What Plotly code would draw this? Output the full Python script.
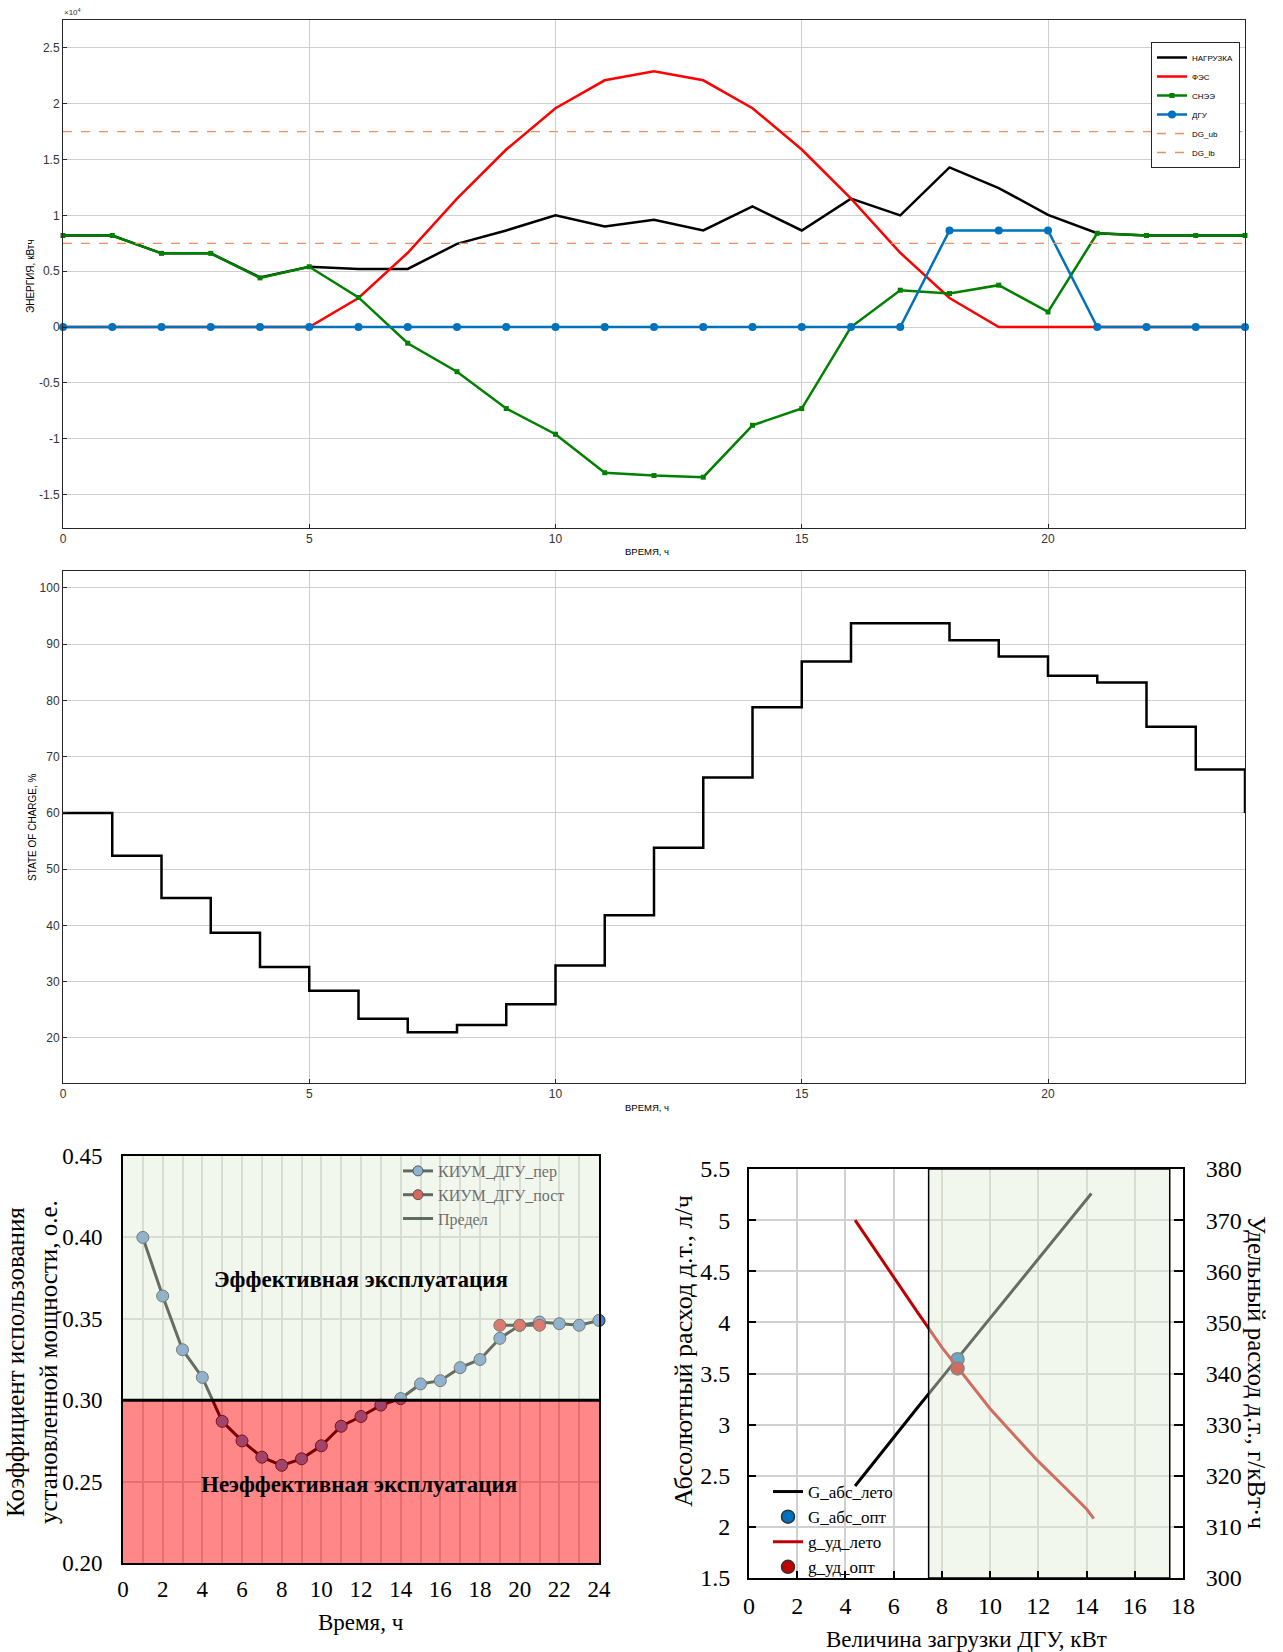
import plotly.graph_objects as go

# ---------------- data: top chart (energy balance, kWh) ----------------
HOURS = list(range(25))
LOAD = [8200, 8200, 6600, 6600, 4450, 5400, 5200, 5200, 7450, 8650, 10000, 9000, 9600, 8650,
        10800, 8650, 11500, 10000, 14300, 12450, 10050, 8400, 8200, 8200, 8200]
PV = [0, 0, 0, 0, 0, 0, 2600, 6650, 11500, 15900, 19600, 22100, 22900, 22100, 19600, 15900,
      11500, 6650, 2600, 0, 0, 0, 0, 0, 0]
BESS = [8200, 8200, 6600, 6600, 4400, 5400, 2650, -1450, -4000, -7300, -9600, -13050, -13300,
        -13450, -8800, -7300, 0, 3300, 3000, 3750, 1350, 8400, 8200, 8200, 8200]
DG = [0, 0, 0, 0, 0, 0, 0, 0, 0, 0, 0, 0, 0, 0, 0, 0, 0, 0, 8650, 8650, 8650, 0, 0, 0, 0]
DG_UB = 17500
DG_LB = 7500
TOP_TICKVALS = [-15000, -10000, -5000, 0, 5000, 10000, 15000, 20000, 25000]
TOP_TICKTEXT = ["-1.5", "-1", "-0.5", "0", "0.5", "1", "1.5", "2", "2.5"]

# ---------------- data: middle chart (state of charge, %) ----------------
SOC = [60.0, 52.4, 44.9, 38.7, 32.6, 28.4, 23.4, 21.0, 22.3, 26.0, 32.9, 41.8, 53.8, 66.3,
       78.8, 86.9, 93.7, 93.7, 90.7, 87.8, 84.4, 83.2, 75.3, 67.7, 60.0]

# ---------------- data: bottom-left (capacity factor) ----------------
KIUM_T = list(range(1, 25))
KIUM_PER = [0.400, 0.364, 0.331, 0.314, 0.287, 0.275, 0.265, 0.260, 0.264, 0.272, 0.284, 0.290,
            0.297, 0.301, 0.310, 0.312, 0.320, 0.325, 0.338, 0.346, 0.348, 0.347, 0.346, 0.349]
KIUM_POST_T = [19, 20, 21]
KIUM_POST = [0.346, 0.346, 0.346]
LIMIT = 0.30
KIUM_YMIN, KIUM_YMAX = 0.20, 0.45

# ---------------- data: bottom-right (fuel consumption) ----------------
LOAD_KW_ABS = [4.4, 5, 6, 7, 8, 9, 10, 11, 12, 13, 14, 14.2]
G_ABS = [2.40, 2.58, 2.87, 3.17, 3.46, 3.75, 4.04, 4.33, 4.62, 4.91, 5.20, 5.26]
LOAD_KW_UD = [4.4, 5, 6, 7, 8, 9, 10, 11, 12, 13, 14, 14.3]
G_UD = [370.0, 365.8, 358.8, 351.9, 345.1, 339.0, 333.1, 327.9, 322.8, 318.2, 313.5, 311.6]
OPT_X = 8.65
OPT_G_ABS = 3.64
OPT_G_UD = 341.0
ZONE_X = [7.45, 17.45]
Y_ABS_RANGE = [1.5, 5.5]
Y_UD_RANGE = [300, 380]

SANS = "Liberation Sans"
SERIF = "Liberation Serif"
W, H = 1283, 1652

def px_x(p):
    return p / W

def px_y(p):
    return 1 - p / H

fig = go.Figure()

# ---- top chart ----
fig.add_trace(go.Scatter(x=HOURS, y=LOAD, mode="lines", name="НАГРУЗКА",
                         line=dict(color="black", width=2.5), xaxis="x", yaxis="y", legend="legend"))
fig.add_trace(go.Scatter(x=HOURS, y=PV, mode="lines", name="ФЭС",
                         line=dict(color="#FF0000", width=2.5), xaxis="x", yaxis="y", legend="legend"))
fig.add_trace(go.Scatter(x=HOURS, y=BESS, mode="lines+markers", name="СНЭЭ",
                         line=dict(color="#008000", width=2.5),
                         marker=dict(symbol="square", size=5, color="#008000"),
                         xaxis="x", yaxis="y", legend="legend", cliponaxis=False))
fig.add_trace(go.Scatter(x=HOURS, y=DG, mode="lines+markers", name="ДГУ",
                         line=dict(color="#0072BD", width=2.5),
                         marker=dict(symbol="circle", size=8, color="#0072BD"),
                         xaxis="x", yaxis="y", legend="legend", cliponaxis=False))
fig.add_trace(go.Scatter(x=[HOURS[0], HOURS[-1]], y=[DG_UB, DG_UB], mode="lines", name="DG_ub",
                         line=dict(color="#F0905F", width=1.3, dash="dash"),
                         xaxis="x", yaxis="y", legend="legend"))
fig.add_trace(go.Scatter(x=[HOURS[0], HOURS[-1]], y=[DG_LB, DG_LB], mode="lines", name="DG_lb",
                         line=dict(color="#F0905F", width=1.3, dash="dash"),
                         xaxis="x", yaxis="y", legend="legend"))

# ---- middle chart ----
fig.add_trace(go.Scatter(x=HOURS, y=SOC, mode="lines", line_shape="hv",
                         line=dict(color="black", width=2.5), xaxis="x2", yaxis="y2",
                         showlegend=False))

# ---- bottom-left chart ----
fig.add_trace(go.Scatter(x=KIUM_T, y=KIUM_PER, mode="lines+markers",
                         line=dict(color="black", width=3),
                         marker=dict(size=12, color="#4A80C8", line=dict(color="#1A1A1A", width=1)),
                         xaxis="x3", yaxis="y3", showlegend=False, cliponaxis=False))
fig.add_trace(go.Scatter(x=KIUM_POST_T, y=KIUM_POST, mode="lines+markers",
                         line=dict(color="black", width=3),
                         marker=dict(size=12, color="#D81818", line=dict(color="#1A1A1A", width=1)),
                         xaxis="x3", yaxis="y3", showlegend=False))
fig.add_trace(go.Scatter(x=[0, 24, 24, 0, 0], y=[LIMIT, LIMIT, KIUM_YMAX, KIUM_YMAX, LIMIT],
                         fill="toself", fillcolor="rgba(227,237,216,0.46)", mode="none",
                         xaxis="x3", yaxis="y3", showlegend=False, hoverinfo="skip"))
fig.add_trace(go.Scatter(x=[0, 24, 24, 0, 0], y=[KIUM_YMIN, KIUM_YMIN, LIMIT, LIMIT, KIUM_YMIN],
                         fill="toself", fillcolor="rgba(255,0,0,0.47)", mode="none",
                         xaxis="x3", yaxis="y3", showlegend=False, hoverinfo="skip"))
fig.add_trace(go.Scatter(x=[0, 24], y=[LIMIT, LIMIT], mode="lines",
                         line=dict(color="black", width=3),
                         xaxis="x3", yaxis="y3", showlegend=False, cliponaxis=False))
# legend entries (as they appear under the translucent zone)
fig.add_trace(go.Scatter(x=[None], y=[None], mode="lines+markers", name="КИУМ_ДГУ_пер",
                         line=dict(color="#5F6B5F", width=3),
                         marker=dict(size=10, color="#8EB4D2", line=dict(color="#4F5A50", width=1)),
                         xaxis="x3", yaxis="y3", legend="legend2"))
fig.add_trace(go.Scatter(x=[None], y=[None], mode="lines+markers", name="КИУМ_ДГУ_пост",
                         line=dict(color="#5F6B5F", width=3),
                         marker=dict(size=10, color="#D9675F", line=dict(color="#4F5A50", width=1)),
                         xaxis="x3", yaxis="y3", legend="legend2"))
fig.add_trace(go.Scatter(x=[None], y=[None], mode="lines", name="Предел",
                         line=dict(color="#5F6B5F", width=3),
                         xaxis="x3", yaxis="y3", legend="legend2"))

# ---- bottom-right chart ----
fig.add_trace(go.Scatter(x=LOAD_KW_ABS, y=G_ABS, mode="lines", name="G_абс_лето",
                         line=dict(color="black", width=3), xaxis="x4", yaxis="y4", legend="legend3"))
fig.add_trace(go.Scatter(x=[OPT_X], y=[OPT_G_ABS], mode="markers", name="G_абс_опт",
                         marker=dict(size=13, color="#0070C0", line=dict(color="#333333", width=1.5)),
                         xaxis="x4", yaxis="y4", legend="legend3"))
fig.add_trace(go.Scatter(x=LOAD_KW_UD, y=G_UD, mode="lines", name="g_уд_лето",
                         line=dict(color="#C00000", width=3), xaxis="x4", yaxis="y5", legend="legend3"))
fig.add_trace(go.Scatter(x=[OPT_X], y=[OPT_G_UD], mode="markers", name="g_уд_опт",
                         marker=dict(size=13, color="#C00000", line=dict(color="#333333", width=1.5)),
                         xaxis="x4", yaxis="y5", legend="legend3"))
fig.add_trace(go.Scatter(x=[ZONE_X[0], ZONE_X[1], ZONE_X[1], ZONE_X[0], ZONE_X[0]],
                         y=[Y_UD_RANGE[0], Y_UD_RANGE[0], Y_UD_RANGE[1], Y_UD_RANGE[1], Y_UD_RANGE[0]],
                         fill="toself", fillcolor="rgba(227,237,216,0.46)", mode="lines",
                         line=dict(color="black", width=1.5),
                         xaxis="x4", yaxis="y5", showlegend=False, hoverinfo="skip"))

matlab_axis = dict(showline=True, linecolor="#262626", linewidth=1, mirror=True,
                   ticks="inside", ticklen=4, tickcolor="#262626", automargin=False,
                   showgrid=True, gridcolor="#CFCFCF", gridwidth=1, zeroline=False,
                   tickfont=dict(family=SANS, size=12, color="#333333"))

serif_axis = dict(showline=True, linecolor="black", linewidth=2, mirror=True, automargin=False,
                  showgrid=True, gridcolor="#D0D0D0", gridwidth=1.5, zeroline=False)

fig.update_layout(
    width=W, height=H,
    margin=dict(l=0, r=0, t=0, b=0, autoexpand=False),
    paper_bgcolor="white", plot_bgcolor="white",
    showlegend=True,
    xaxis=dict(domain=[px_x(63), px_x(1245)], range=[0, 24], tickvals=[0, 5, 10, 15, 20],
               anchor="y", **matlab_axis),
    yaxis=dict(domain=[px_y(528), px_y(20)], range=[-18000, 27500],
               tickvals=TOP_TICKVALS, ticktext=TOP_TICKTEXT, anchor="x", **matlab_axis),
    xaxis2=dict(domain=[px_x(63), px_x(1245)], range=[0, 24], tickvals=[0, 5, 10, 15, 20],
                anchor="y2", **matlab_axis),
    yaxis2=dict(domain=[px_y(1083), px_y(571)], range=[12, 103], dtick=10, anchor="x2",
                **matlab_axis),
    xaxis3=dict(domain=[px_x(123), px_x(599)], range=[0, 24], dtick=2, anchor="y3",
                minor=dict(dtick=1, showgrid=True, gridcolor="#D0D0D0", gridwidth=1.5),
                ticks="", ticklabelstandoff=4,
                tickfont=dict(family=SERIF, size=23, color="black"), **serif_axis),
    yaxis3=dict(domain=[px_y(1563), px_y(1156)], range=[KIUM_YMIN, KIUM_YMAX], dtick=0.05,
                tickformat=".2f", anchor="x3", ticks="", ticklabelstandoff=14,
                tickfont=dict(family=SERIF, size=23, color="black"), **serif_axis),
    xaxis4=dict(domain=[px_x(749), px_x(1183)], range=[0, 18], dtick=2, anchor="y4",
                ticks="inside", ticklen=7, tickcolor="black", tickwidth=1.5, ticklabelstandoff=5,
                tickfont=dict(family=SERIF, size=24, color="black"), **serif_axis),
    yaxis4=dict(domain=[px_y(1578), px_y(1169)], range=Y_ABS_RANGE, dtick=0.5, anchor="x4",
                ticks="inside", ticklen=7, tickcolor="black", tickwidth=1.5, ticklabelstandoff=12,
                tickfont=dict(family=SERIF, size=24, color="black"), **serif_axis),
    yaxis5=dict(overlaying="y4", side="right", anchor="x4", range=Y_UD_RANGE, dtick=10,
                showline=True, linecolor="black", linewidth=2, showgrid=False, zeroline=False,
                ticks="inside", ticklen=9, tickcolor="black", tickwidth=1.5, automargin=False,
                ticklabelstandoff=16, tickfont=dict(family=SERIF, size=24, color="black")),
    legend=dict(x=px_x(1240), xanchor="right", y=px_y(42), yanchor="top",
                bgcolor="white", bordercolor="#262626", borderwidth=1,
                font=dict(family=SANS, size=8, color="black"), tracegroupgap=0, itemwidth=30),
    legend2=dict(x=px_x(398), xanchor="left", y=px_y(1154), yanchor="top",
                 bgcolor="rgba(0,0,0,0)", borderwidth=0,
                 font=dict(family=SERIF, size=16, color="#6E6E6E"), tracegroupgap=0),
    legend3=dict(x=px_x(768), xanchor="left", y=px_y(1474), yanchor="top",
                 bgcolor="rgba(0,0,0,0)", borderwidth=0,
                 font=dict(family=SERIF, size=17, color="black"), tracegroupgap=0),
)

annotations = [
    dict(text="×10<sup>4</sup>", x=px_x(62), y=px_y(19), xanchor="left", yanchor="bottom",
         font=dict(family=SANS, size=8, color="#333333")),
    dict(text="ВРЕМЯ, ч", x=px_x(647), y=px_y(551), xanchor="center", yanchor="middle",
         font=dict(family=SANS, size=9.5, color="black")),
    dict(text="ЭНЕРГИЯ, кВтч", x=px_x(31), y=px_y(276), textangle=-90, xanchor="center",
         yanchor="middle", font=dict(family=SANS, size=10, color="black")),
    dict(text="ВРЕМЯ, ч", x=px_x(647), y=px_y(1107), xanchor="center", yanchor="middle",
         font=dict(family=SANS, size=9.5, color="black")),
    dict(text="STATE OF CHARGE, %", x=px_x(33), y=px_y(827), textangle=-90, xanchor="center",
         yanchor="middle", font=dict(family=SANS, size=10, color="black")),
    dict(text="Время, ч", x=px_x(361), y=px_y(1622), xanchor="center", yanchor="middle",
         font=dict(family=SERIF, size=23, color="black")),
    dict(text="Коэффициент использования<br>установленной мощности, о.е.", x=px_x(32),
         y=px_y(1362), textangle=-90, xanchor="center", yanchor="middle",
         font=dict(family=SERIF, size=25, color="black")),
    dict(text="<b>Эффективная эксплуатация</b>", x=12, y=0.374, xref="x3", yref="y3",
         xanchor="center", yanchor="middle", font=dict(family=SERIF, size=23, color="black")),
    dict(text="<b>Неэффективная эксплуатация</b>", x=11.9, y=0.248, xref="x3", yref="y3",
         xanchor="center", yanchor="middle", font=dict(family=SERIF, size=23, color="black")),
    dict(text="Величина загрузки ДГУ, кВт", x=px_x(966), y=px_y(1639), xanchor="center",
         yanchor="middle", font=dict(family=SERIF, size=23, color="black")),
    dict(text="Абсолютный расход д.т., л/ч", x=px_x(683), y=px_y(1351), textangle=-90,
         xanchor="center", yanchor="middle", font=dict(family=SERIF, size=26, color="black")),
    dict(text="Удельный расход д.т., г/кВт·ч", x=px_x(1257), y=px_y(1372), textangle=90,
         xanchor="center", yanchor="middle", font=dict(family=SERIF, size=25, color="black")),
]
for a in annotations:
    a.setdefault("xref", "paper")
    a.setdefault("yref", "paper")
    a["showarrow"] = False
fig.update_layout(annotations=annotations)

fig.write_html("out.html")
